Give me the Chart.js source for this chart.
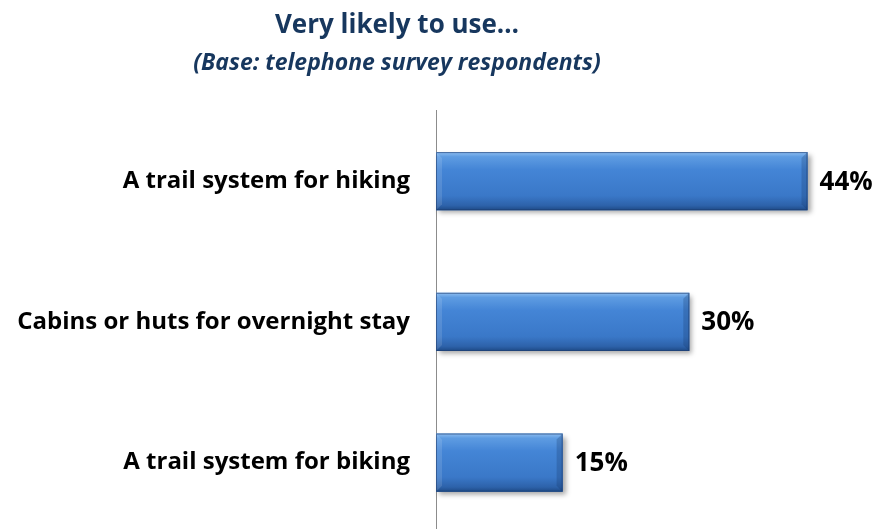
<!DOCTYPE html>
<html>
<head>
<meta charset="utf-8">
<script src="https://cdn.jsdelivr.net/npm/chart.js@4/dist/chart.umd.min.js"></script>
<style>
  html, body { margin: 0; padding: 0; background: #fff; overflow: hidden; }
  canvas { display: block; }
</style>
</head>
<body>
<canvas id="chart" width="880" height="533"></canvas>
<script>
// Datos del gráfico
const categories = ['A trail system for hiking', 'Cabins or huts for overnight stay', 'A trail system for biking'];
const values = [44, 30, 15];
const valueLabels = ['44%', '30%', '15%'];

const titleText = 'Very likely to use…';
const subtitleText = '(Base: telephone survey respondents)';

const FONT = "'Open Sans', 'DejaVu Sans', sans-serif";
const NAVY = '#17375E';

// Sombra detrás de las barras
const shadowPlugin = {
    id: 'barShadow',
    beforeDatasetsDraw(chart) {
        const ctx = chart.ctx;
        ctx.save();
        ctx.shadowColor = 'rgba(0,0,0,0.35)';
        ctx.shadowBlur = 5;
        ctx.shadowOffsetX = 3;
        ctx.shadowOffsetY = 3;
    },
    afterDatasetsDraw(chart) {
        chart.ctx.restore();
    }
};

// Relieve (degradado) + etiquetas de valor
const bevelPlugin = {
    id: 'bevel',
    afterDatasetsDraw(chart) {
        const ctx = chart.ctx;
        const meta = chart.getDatasetMeta(0);
        meta.data.forEach((bar, i) => {
            const x0 = bar.base, x1 = bar.x;
            const y0 = bar.y - bar.height / 2, y1 = bar.y + bar.height / 2;
            const w = x1 - x0, h = y1 - y0;
            ctx.save();
            // degradado vertical
            const g = ctx.createLinearGradient(0, y0, 0, y1);
            g.addColorStop(0, '#8DBDF0');
            g.addColorStop(0.08, '#5E9CE2');
            g.addColorStop(0.3, '#4485D6');
            g.addColorStop(0.75, '#3A78C8');
            g.addColorStop(0.92, '#2D62AA');
            g.addColorStop(1, '#1E4A86');
            ctx.fillStyle = g;
            ctx.fillRect(x0, y0, w, h);
            // bordes laterales (bisel)
            const b = 6;
            ctx.fillStyle = 'rgba(20,50,100,0.25)';
            ctx.beginPath();
            ctx.moveTo(x1, y0); ctx.lineTo(x1 - b, y0 + b); ctx.lineTo(x1 - b, y1 - b); ctx.lineTo(x1, y1);
            ctx.closePath(); ctx.fill();
            ctx.fillStyle = 'rgba(255,255,255,0.12)';
            ctx.beginPath();
            ctx.moveTo(x0, y0); ctx.lineTo(x0 + b, y0 + b); ctx.lineTo(x0 + b, y1 - b); ctx.lineTo(x0, y1);
            ctx.closePath(); ctx.fill();
            ctx.strokeStyle = 'rgba(30,60,110,0.6)';
            ctx.lineWidth = 1;
            ctx.strokeRect(x0 + 0.5, y0 + 0.5, w - 1, h - 1);
            ctx.restore();

            // etiqueta de valor
            ctx.save();
            ctx.fillStyle = '#000';
            ctx.font = 'bold 26px ' + FONT;
            ctx.textAlign = 'left';
            ctx.textBaseline = 'middle';
            ctx.fillText(valueLabels[i], x1 + 12, bar.y + 1);
            ctx.restore();
        });
    }
};

const ctx = document.getElementById('chart').getContext('2d');
new Chart(ctx, {
    type: 'bar',
    data: {
        labels: categories,
        datasets: [{
            data: values,
            backgroundColor: '#3A78C8',
            borderWidth: 0,
            barPercentage: 0.413,
            categoryPercentage: 1,
            clip: false
        }]
    },
    options: {
        indexAxis: 'y',
        responsive: false,
        animation: false,
        // el título está centrado a la izquierda del centro del lienzo
        layout: { padding: { left: 0, right: 86, top: 0, bottom: 0 } },
        plugins: {
            legend: { display: false },
            tooltip: { enabled: false },
            title: {
                display: true,
                text: titleText,
                color: NAVY,
                font: { family: FONT, size: 26, weight: 'bold', lineHeight: 1.2 },
                padding: { top: 10, bottom: 0 }
            },
            subtitle: {
                display: true,
                text: subtitleText,
                color: NAVY,
                font: { family: FONT, size: 23, weight: 'bold', style: 'italic', lineHeight: 1.2 },
                padding: { top: 8, bottom: 34 }
            }
        },
        scales: {
            x: {
                display: false,
                min: 0,
                max: 42.4
            },
            y: {
                grid: { display: false, drawTicks: false },
                border: { display: true, color: '#8C8C8C', width: 1 },
                ticks: {
                    color: '#000',
                    padding: 26,
                    font: { family: FONT, size: 24, weight: 'bold' }
                },
                afterFit(scale) {
                    scale.width = 436;
                    scale.paddingTop = 0;
                    scale.paddingBottom = 0;
                }
            }
        }
    },
    plugins: [shadowPlugin, bevelPlugin]
});
</script>
</body>
</html>
